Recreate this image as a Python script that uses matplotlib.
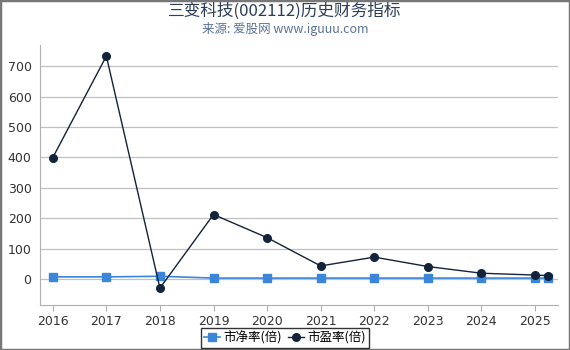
import matplotlib
matplotlib.use("Agg")
import matplotlib.pyplot as plt
from matplotlib.patches import Rectangle

plt.rcParams['font.family'] = ['DejaVu Sans', 'Noto Sans CJK SC']

years = [2016, 2017, 2018, 2019, 2020, 2021, 2022, 2023, 2024, 2025, 2025.25]
pb = [7, 7, 9, 3, 3, 3, 3, 3, 3, 3, 3]
pe = [399, 733, -30, 212, 136, 43, 72, 41, 19, 13, 11]
xticks = [2016, 2017, 2018, 2019, 2020, 2021, 2022, 2023, 2024, 2025]
yticks = [0, 100, 200, 300, 400, 500, 600, 700]

title = "三变科技(002112)历史财务指标"
subtitle = "来源: 爱股网 www.iguuu.com"
pb_label = "市净率(倍)"
pe_label = "市盈率(倍)"

fig = plt.figure(figsize=(5.7, 3.5), dpi=100)
ax = fig.add_axes([0.070, 0.129, 0.909, 0.742])

ax.plot(years, pb, color='#3b86d8', marker='s', markersize=5.5, linewidth=1.2, label=pb_label, zorder=3)
ax.plot(years, pe, color='#13233b', marker='o', markersize=5.5, linewidth=1.0, label=pe_label, zorder=4)

ax.set_xlim(2015.76, 2025.43)
ax.set_ylim(-85, 769)
ax.set_xticks(xticks)
ax.set_xticklabels([str(x) for x in xticks])
ax.set_yticks(yticks)
ax.grid(axis='y', color='#c0c0c0', linewidth=0.9)
ax.set_axisbelow(True)
for s in ['top', 'right']:
    ax.spines[s].set_visible(False)
for s in ['left', 'bottom']:
    ax.spines[s].set_color('#b0b0b0')
ax.tick_params(axis='y', length=0, labelsize=9, colors='#333333', pad=6)
ax.tick_params(axis='x', length=4, color='#b0b0b0', labelsize=9, colors='#333333')

fig.text(0.5, 0.967, title, ha='center', va='center', fontsize=12, color='#2c3e5a',
         family=['Noto Sans CJK SC', 'DejaVu Sans'])
fig.text(0.5, 0.917, subtitle, ha='center', va='center', fontsize=9, color='#5a7396',
         family=['Noto Sans CJK SC', 'DejaVu Sans'])

h, l = ax.get_legend_handles_labels()
leg = fig.legend(h, l, loc='lower center', bbox_to_anchor=(0.5, -0.012), ncol=2, frameon=True,
                 fancybox=False, edgecolor='black', handlelength=1.3,
                 handletextpad=0.25, columnspacing=0.5, borderpad=0.25,
                 prop={'family': ['Noto Sans CJK SC', 'DejaVu Sans'], 'size': 9})
leg.get_frame().set_linewidth(1.0)

fig.patches.append(Rectangle((0, 0), 1, 1, transform=fig.transFigure, fill=False,
                             edgecolor='#777777', linewidth=2.5))

fig.savefig('out.png', dpi=100)
